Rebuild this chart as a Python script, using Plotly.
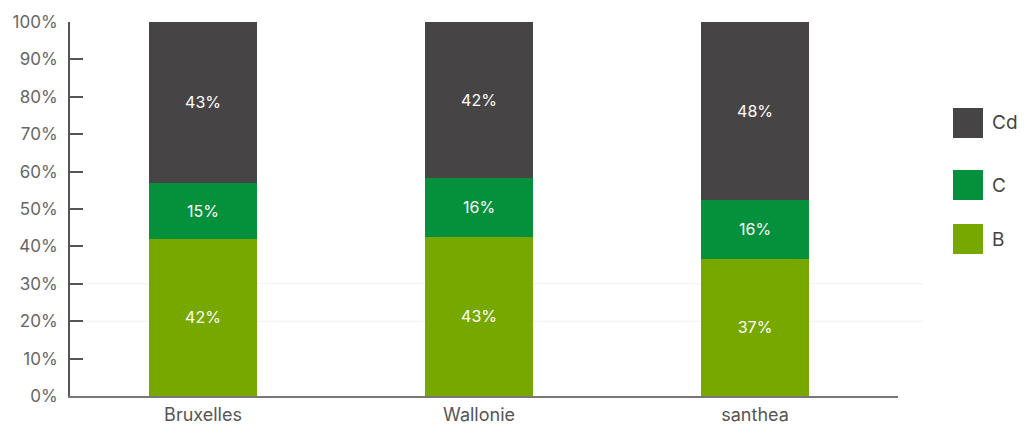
import plotly.graph_objects as go

categories = ["Bruxelles", "Wallonie", "santhea"]
series_names = ["B", "C", "Cd"]
values_B = [42, 43, 37]
values_C = [15, 16, 16]
values_Cd = [43, 42, 48]
colors = {"B": "#76a800", "C": "#05903c", "Cd": "#474446"}
y_ticks = [0, 10, 20, 30, 40, 50, 60, 70, 80, 90, 100]

series = {"B": values_B, "C": values_C, "Cd": values_Cd}

fig = go.Figure()
for name in series_names:
    fig.add_trace(go.Bar(
        x=categories, y=series[name], name=name,
        marker=dict(color=colors[name], line=dict(width=0)),
        width=0.39,
        text=[f"{v}%" for v in series[name]],
        textposition="inside", insidetextanchor="middle",
        textfont=dict(color="white", size=16, family="Inter"),
        textangle=0,
        showlegend=False,
        hoverinfo="skip",
    ))

# faint grid lines
for g in [20, 30]:
    fig.add_shape(type="line", xref="paper", yref="y", x0=0, x1=1.03, y0=g, y1=g,
                  line=dict(color="#f1f1f1", width=1), layer="below")

# legend drawn at right (top to bottom: Cd, C, B)
leg_order = ["Cd", "C", "B"]
leg_centers = [123, 185, 239]
for name, cy in zip(leg_order, leg_centers):
    y0 = (396 - (cy + 15)) / 374
    y1 = (396 - (cy - 15)) / 374
    fig.add_shape(type="rect", xref="paper", yref="paper",
                  x0=(953 - 70) / 828, x1=(983 - 70) / 828, y0=y0, y1=y1,
                  fillcolor=colors[name], line=dict(width=0))
    fig.add_annotation(xref="paper", yref="paper", x=(990 - 70) / 828, y=(396 - cy) / 374,
                       text=name, showarrow=False, xanchor="left", yanchor="middle",
                       font=dict(size=19, color="#444444", family="Inter"))

fig.update_layout(
    barmode="stack", barnorm="percent",
    width=1026, height=426,
    margin=dict(l=70, r=128, t=22, b=30, autoexpand=False),
    plot_bgcolor="white", paper_bgcolor="white",
    font=dict(family="Inter", color="#666666"),
    xaxis=dict(showline=True, linecolor="#777777", linewidth=2, ticks="",
               range=[-0.482, 2.518],
               automargin=False, ticklabelstandoff=1,
               tickfont=dict(size=18, color="#555555"), showgrid=False, zeroline=False),
    yaxis=dict(range=[0, 100], tickvals=y_ticks, ticktext=[f"{t}%" for t in y_ticks],
               showline=True, linecolor="#555555", linewidth=2,
               ticks="inside", ticklen=13, tickwidth=2, tickcolor="#555555",
               automargin=False, ticklabelstandoff=7,
               tickfont=dict(size=17, color="#666666"), showgrid=False, zeroline=False),
)

fig.write_html("out.html", config={"displayModeBar": False},
               post_script="document.body.style.margin='0';document.body.style.overflow='hidden';")
